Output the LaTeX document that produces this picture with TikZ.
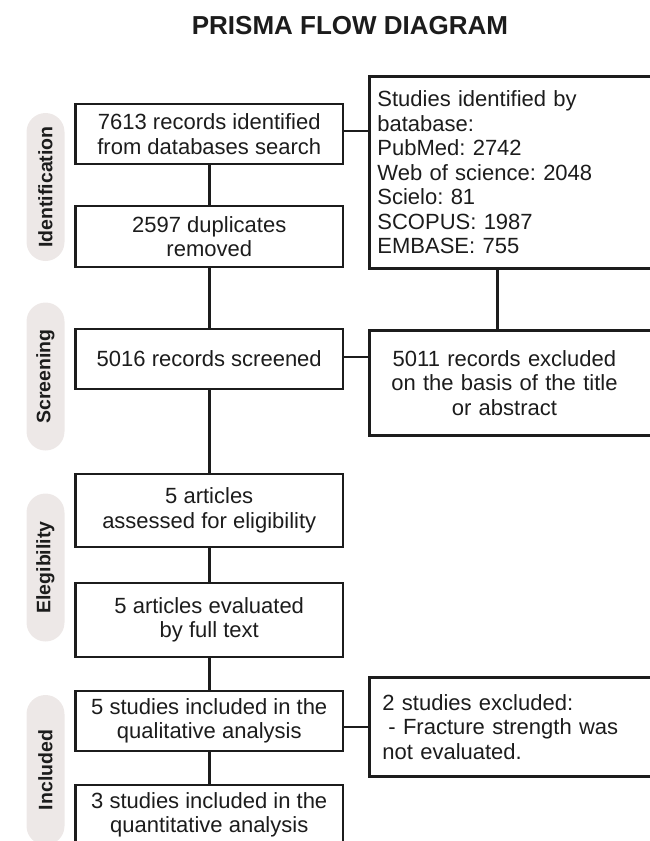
\documentclass[tikz,border=0pt]{standalone}
\usepackage{fontspec}
\setmainfont{Liberation Sans}
\definecolor{pillgray}{RGB}{237,232,231}
\definecolor{inkgray}{RGB}{28,28,28}
\frenchspacing

\begin{document}
\begin{tikzpicture}[x=1pt,y=-1pt,line width=2.8pt,
  flowbox/.style={draw=inkgray,minimum width=267.5pt,align=center,inner sep=4pt,
    font=\fontsize{22}{24.5}\selectfont,text=inkgray},
  sidebox/.style={draw=inkgray,anchor=north west,text width=300pt,align=left,
    inner xsep=8pt,font=\fontsize{22}{24.5}\selectfont,text=inkgray},
  phase/.style={fill=pillgray,rotate=90,minimum width=148pt,minimum height=38pt,
    rounded corners=19pt,inner sep=0pt,text=inkgray,
    font=\bfseries\fontsize{19.5}{20}\selectfont}]
\useasboundingbox (0,0) rectangle (650,841);
\node[anchor=base,text=inkgray,font=\bfseries\fontsize{26}{30}\selectfont] (title) at (350,34) {PRISMA FLOW DIAGRAM};
\node[phase] (idpill) at (45.5,187) {Identification};
\node[phase] (scrpill) at (45.5,376.5) {Screening};
\node[phase] (elpill) at (45.5,567.5) {Elegibility};
\node[phase,minimum width=150pt] (incpill) at (45.5,770) {Included};
\node[flowbox,minimum height=60pt] (recs) at (209.25,134) {7613 records identified\\from databases search};
\node[flowbox,minimum height=61pt] (dups) at (209.25,236.5) {2597 duplicates\\removed};
\node[flowbox,minimum height=60pt] (screened) at (209.25,359) {5016 records screened};
\node[flowbox,minimum height=73pt] (eligib) at (209.25,510.5) {5 articles\\assessed for eligibility};
\node[flowbox,minimum height=74pt] (fulltext) at (209.25,620) {5 articles evaluated\\by full text};
\node[flowbox,minimum height=60pt] (qualit) at (209.25,721) {5 studies included in the\\qualitative analysis};
\node[flowbox,minimum height=60pt] (quantit) at (209.25,815) {3 studies included in the\\quantitative analysis};
\node[sidebox,minimum height=192pt] (databases) at (368,75) {Studies identified by\\batabase:\\PubMed: 2742\\Web of science: 2048\\Scielo: 81\\SCOPUS: 1987\\EMBASE: 755};
\node[sidebox,minimum height=105pt] (titleexcl) at (368,329) {\parbox{254pt}{\centering 5011 records excluded\\on the basis of the title\\or abstract}};
\node[sidebox,minimum height=99pt,inner xsep=13pt] (studexcl) at (368,676) {2 studies excluded:\\\hspace*{6pt}- Fracture strength was\\not evaluated.};
\draw[inkgray] (recs)--(dups);
\draw[inkgray] (dups)--(screened);
\draw[inkgray] (screened)--(eligib);
\draw[inkgray] (eligib)--(fulltext);
\draw[inkgray] (fulltext)--(qualit);
\draw[inkgray] (qualit)--(quantit);
\draw[inkgray] ([yshift=3pt]recs.east)--([yshift=3pt]recs.east -| databases.west);
\draw[inkgray] ([yshift=2pt]screened.east)--([yshift=2pt]screened.east -| titleexcl.west);
\draw[inkgray] ([yshift=-6pt]qualit.east)--([yshift=-6pt]qualit.east -| studexcl.west);
\draw[inkgray] ([xshift=129.5pt]databases.south west)--([xshift=129.5pt]titleexcl.north west);
\end{tikzpicture}
\end{document}
